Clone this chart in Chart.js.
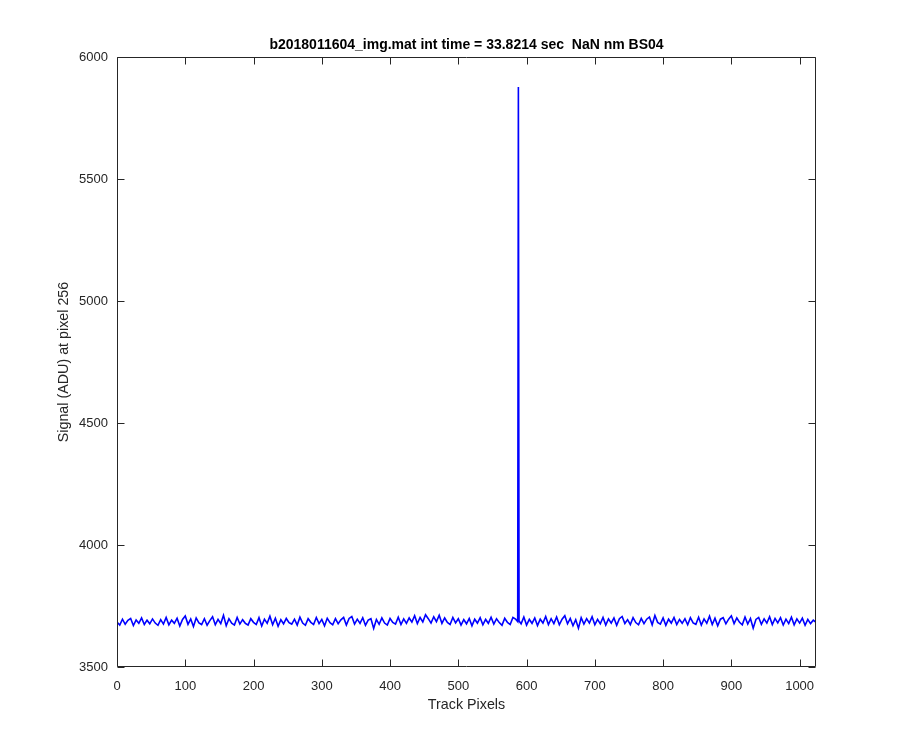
<!DOCTYPE html>
<html>
<head>
<meta charset="utf-8">
<script src="https://cdn.jsdelivr.net/npm/chart.js@4/dist/chart.umd.min.js"></script>
<style>
  html, body { margin: 0; padding: 0; background: #fff; }
  canvas { display: block; }
</style>
</head>
<body>
<canvas id="signal_chart" width="900" height="750"></canvas>
<script>
// signal at pixel 256, sampled every 4 track pixels (0, 4, ... 1020)
var pixelStep = 4;
var signal = [
  3684, 3672, 3696, 3675, 3691, 3699, 3670, 3693, 3679, 3701, 3674, 3692, 3677, 3697, 3680, 3671,
  3694, 3676, 3703, 3673, 3692, 3679, 3700, 3668, 3695, 3709, 3675, 3697, 3666, 3701, 3681, 3674,
  3698, 3671, 3690, 3706, 3673, 3695, 3678, 3712, 3669, 3698, 3680, 3672, 3703, 3676, 3694, 3679,
  3672, 3698, 3683, 3674, 3702, 3668, 3696, 3679, 3708, 3673, 3700, 3667, 3694, 3677, 3699, 3682,
  3676, 3696, 3672, 3704, 3680, 3671, 3698, 3683, 3674, 3703, 3678, 3695, 3669, 3700, 3682, 3673,
  3698, 3677, 3693, 3703, 3672, 3699, 3707, 3676, 3696, 3679, 3702, 3671, 3692, 3698, 3658, 3695,
  3675, 3701, 3680, 3672, 3699, 3683, 3676, 3704, 3674, 3697, 3679, 3701, 3684, 3710, 3678, 3703,
  3685, 3714, 3698, 3680, 3706, 3686, 3712, 3679, 3701, 3683, 3674, 3703, 3681, 3698, 3672, 3694,
  3677, 3699, 3669, 3696, 3680, 3702, 3673, 3695, 3679, 3704, 3676, 3698, 3682, 3671, 3700, 3683,
  3674, 3703, 3696, 5877, 3677, 3705, 3672, 3695, 3679, 3701, 3670, 3696, 3680, 3707, 3674, 3698,
  3678, 3705, 3673, 3696, 3710, 3677, 3699, 3669, 3694, 3659, 3702, 3676, 3698, 3680, 3706, 3673,
  3695, 3677, 3703, 3672, 3697, 3680, 3701, 3671, 3698, 3707, 3678, 3694, 3674, 3702, 3682, 3673,
  3699, 3678, 3696, 3705, 3673, 3711, 3683, 3676, 3701, 3671, 3696, 3680, 3703, 3674, 3695, 3679,
  3698, 3673, 3702, 3681, 3675, 3704, 3672, 3697, 3679, 3708, 3674, 3700, 3669, 3696, 3702, 3677,
  3696, 3710, 3678, 3701, 3683, 3673, 3705, 3676, 3699, 3659, 3695, 3703, 3675, 3697, 3680, 3706,
  3674, 3699, 3681, 3702, 3672, 3696, 3678, 3704, 3673, 3697, 3680, 3700, 3671, 3695, 3678, 3692
];
// samples right beside the spike so it stays a thin line, and the last pixel
var extraPixels = [587, 589, 1024];
var extraSignal = [3686, 3689, 3683];

var xTicks = [0, 100, 200, 300, 400, 500, 600, 700, 800, 900, 1000];
var yTicks = [3500, 4000, 4500, 5000, 5500, 6000];

var points = signal.map(function(v, i) { return {x: i * pixelStep, y: v}; });
extraPixels.forEach(function(p, i) { points.push({x: p, y: extraSignal[i]}); });
points.sort(function(a, b) { return a.x - b.x; });

var axisColor = '#262626';

// matlab style box with inward ticks on all four sides
var boxPlugin = {
    id: 'matlabBox',
    afterDraw: function(chart) {
        var ctx = chart.ctx, a = chart.chartArea;
        var xs = chart.scales.x, ys = chart.scales.y;
        var L = Math.round(a.left) + 0.5, R = Math.round(a.right) - 0.5;
        var T = Math.round(a.top) + 0.5, B = Math.round(a.bottom) - 0.5;
        ctx.save();
        ctx.strokeStyle = axisColor;
        ctx.lineWidth = 1;
        ctx.beginPath();
        ctx.rect(L, T, R - L, B - T);
        xs.ticks.forEach(function(t) {
            var px = Math.round(xs.getPixelForValue(t.value)) + 0.5;
            ctx.moveTo(px, B); ctx.lineTo(px, B - 7);
            ctx.moveTo(px, T); ctx.lineTo(px, T + 7);
        });
        ys.ticks.forEach(function(t) {
            var py = Math.round(ys.getPixelForValue(t.value)) + 0.5;
            ctx.moveTo(L, py); ctx.lineTo(L + 7, py);
            ctx.moveTo(R, py); ctx.lineTo(R - 7, py);
        });
        ctx.stroke();
        ctx.restore();
    }
};

var font = "'Liberation Sans', Arial, Helvetica, sans-serif";
var plain = function(v) { return String(v); };

var chart = new Chart(document.getElementById('signal_chart').getContext('2d'), {
    type: 'line',
    data: {
        datasets: [{
            label: 'signal',
            data: points,
            borderColor: '#0000ff',
            borderWidth: 1.6,
            pointRadius: 0,
            tension: 0,
            fill: false
        }]
    },
    options: {
        responsive: false,
        animation: false,
        devicePixelRatio: 1,
        layout: { padding: { left: 0, right: 84, top: 0, bottom: 0 } },
        plugins: {
            legend: { display: false },
            tooltip: { enabled: false },
            title: {
                display: true,
                fullSize: false,
                text: 'b2018011604_img.mat int time = 33.8214 sec  NaN nm BS04',
                color: '#000',
                font: { family: font, size: 14, weight: 'bold', lineHeight: 1.2 },
                padding: { top: 36.6, bottom: 3.6 }
            }
        },
        scales: {
            x: {
                type: 'linear',
                min: 0,
                max: 1024,
                afterFit: function(s) { s.height = 83; },
                afterBuildTicks: function(s) { s.ticks = xTicks.map(function(v) { return {value: v}; }); },
                grid: { display: false, drawTicks: false },
                border: { display: false },
                ticks: {
                    padding: 12,
                    maxRotation: 0,
                    color: axisColor,
                    callback: plain,
                    font: { family: font, size: 13 }
                },
                title: {
                    display: true,
                    text: 'Track Pixels',
                    color: axisColor,
                    font: { family: font, size: 14.3, lineHeight: 1.2 },
                    padding: { top: 0, bottom: 36.4 }
                }
            },
            y: {
                type: 'linear',
                min: 3500,
                max: 6000,
                afterFit: function(s) { s.width = 117; },
                afterBuildTicks: function(s) { s.ticks = yTicks.map(function(v) { return {value: v}; }); },
                grid: { display: false, drawTicks: false },
                border: { display: false },
                ticks: {
                    padding: 9,
                    color: axisColor,
                    callback: plain,
                    font: { family: font, size: 13 }
                },
                title: {
                    display: true,
                    text: 'Signal (ADU) at pixel 256',
                    color: axisColor,
                    font: { family: font, size: 14.3, lineHeight: 1.2 },
                    padding: { top: 55.5, bottom: 0 }
                }
            }
        }
    },
    plugins: [boxPlugin]
});
</script>
</body>
</html>
